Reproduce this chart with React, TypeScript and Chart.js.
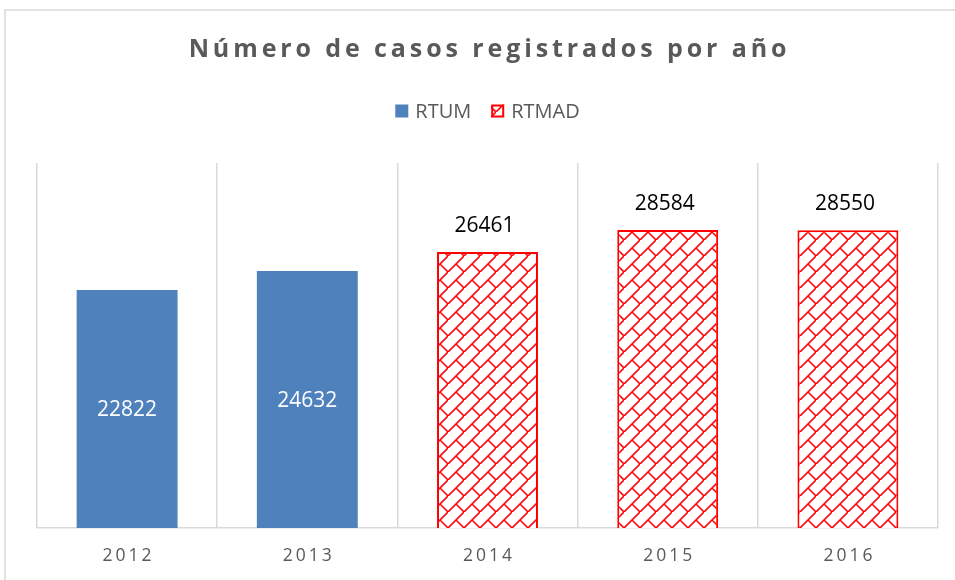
import { useEffect, useRef } from "react";
import { Chart, registerables } from "chart.js";

Chart.register(...registerables);

const TITLE = "Número de casos registrados por año";
const categories = ["2012", "2013", "2014", "2015", "2016"];
const seriesNames = ["RTUM", "RTMAD"];
const rtumValues: (number | null)[] = [22822, 24632, null, null, null];
const rtmadValues: (number | null)[] = [null, null, 26461, 28584, 28550];
const yMax = 35000;

const BLUE = "#4F81BD";
const RED = "#FF0000";
const GRAY_TEXT = "#595959";
const GRID = "#D9D9D9";
const FONT = "'Open Sans', 'Liberation Sans', sans-serif";

function makePattern(ctx: CanvasRenderingContext2D): CanvasPattern | string {
  const c = document.createElement("canvas");
  c.width = 16;
  c.height = 16;
  const g = c.getContext("2d");
  if (!g) return RED;
  g.fillStyle = "#ffffff";
  g.fillRect(0, 0, 16, 16);
  g.strokeStyle = "rgba(255,0,0,0.95)";
  g.lineWidth = 1.6;
  g.beginPath();
  g.moveTo(-2, 18);
  g.lineTo(18, -2);
  g.moveTo(8, 8);
  g.lineTo(18, 18);
  g.moveTo(-2, -2);
  g.lineTo(0, 0);
  g.stroke();
  return ctx.createPattern(c, "repeat") || RED;
}

const textPlugin = {
  id: "customTexts",
  beforeDraw(chart: any) {
    const ctx: CanvasRenderingContext2D = chart.ctx;
    ctx.save();
    ctx.fillStyle = "#ffffff";
    ctx.fillRect(0, 0, chart.width, chart.height);
    ctx.strokeStyle = GRID;
    ctx.lineWidth = 1.5;
    ctx.beginPath();
    ctx.moveTo(5, chart.height);
    ctx.lineTo(5, 10);
    ctx.lineTo(chart.width, 10);
    ctx.stroke();
    ctx.restore();
  },
  afterDraw(chart: any) {
    const ctx: any = chart.ctx;
    const area = chart.chartArea;
    const cx = (area.left + area.right) / 2;
    ctx.save();

    // Title
    ctx.font = `bold 25px ${FONT}`;
    ctx.fillStyle = GRAY_TEXT;
    ctx.textAlign = "center";
    ctx.textBaseline = "middle";
    ctx.letterSpacing = "3.9px";
    ctx.fillText(TITLE, cx + 2, 50);

    // Legend
    ctx.letterSpacing = "0px";
    ctx.font = `20px ${FONT}`;
    ctx.textAlign = "left";
    const ly = 111;
    const box = 13;
    const gap = 7;
    const itemGap = 20;
    const w0 = ctx.measureText(seriesNames[0]).width;
    const w1 = ctx.measureText(seriesNames[1]).width;
    const total = box + gap + w0 + itemGap + box + gap + w1;
    let x = cx - total / 2;
    ctx.fillStyle = BLUE;
    ctx.fillRect(x, ly - box / 2, box, box);
    ctx.fillStyle = GRAY_TEXT;
    ctx.fillText(seriesNames[0], x + box + gap, ly + 1);
    x += box + gap + w0 + itemGap;
    ctx.fillStyle = makePattern(ctx);
    ctx.fillRect(x, ly - box / 2, box, box);
    ctx.strokeStyle = RED;
    ctx.lineWidth = 2;
    ctx.strokeRect(x + 1, ly - box / 2 + 1, box - 2, box - 2);
    ctx.fillStyle = GRAY_TEXT;
    ctx.fillText(seriesNames[1], x + box + gap, ly + 1);

    // X tick labels
    const xs = chart.scales.x;
    ctx.font = `17.5px ${FONT}`;
    ctx.textAlign = "center";
    ctx.letterSpacing = "3px";
    ctx.fillStyle = GRAY_TEXT;
    categories.forEach((c, i) => {
      ctx.fillText(c, xs.getPixelForValue(i) + 1.5, area.bottom + 28);
    });

    // Data labels
    ctx.letterSpacing = "0px";
    ctx.font = `21px ${FONT}`;
    const m0 = chart.getDatasetMeta(0);
    m0.data.forEach((el: any, i: number) => {
      const v = rtumValues[i];
      if (v == null) return;
      ctx.fillStyle = "#ffffff";
      ctx.fillText(String(v), el.x, (el.y + el.base) / 2 + 1);
    });
    const m1 = chart.getDatasetMeta(1);
    m1.data.forEach((el: any, i: number) => {
      const v = rtmadValues[i];
      if (v == null) return;
      ctx.fillStyle = "#000000";
      ctx.fillText(String(v), el.x - 3, el.y - 26);
    });
    ctx.restore();
  },
};

export default function App() {
  const ref = useRef<HTMLCanvasElement | null>(null);
  useEffect(() => {
    const canvas = ref.current;
    if (!canvas) return;
    const ctx = canvas.getContext("2d") as CanvasRenderingContext2D;
    const pattern = makePattern(ctx);
    const chart = new Chart(ctx, {
      type: "bar",
      data: {
        labels: categories,
        datasets: [
          {
            label: seriesNames[0],
            data: rtumValues,
            backgroundColor: BLUE,
            borderWidth: 0,
          },
          {
            label: seriesNames[1],
            data: rtmadValues,
            backgroundColor: pattern as any,
            borderColor: RED,
            borderWidth: 2,
          },
        ],
      },
      options: {
        responsive: false,
        animation: false,
        events: [],
        layout: { padding: { left: 37, right: 17, top: 163, bottom: 52 } },
        datasets: {
          bar: { categoryPercentage: 1, barPercentage: 0.56 },
        },
        plugins: {
          legend: { display: false },
          title: { display: false },
          tooltip: { enabled: false },
        },
        scales: {
          x: {
            stacked: true,
            offset: true,
            grid: { display: true, color: GRID, lineWidth: 1.5, offset: true, drawTicks: false },
            border: { display: true, color: GRID, width: 1.5 },
            ticks: { display: false },
          },
          y: {
            stacked: true,
            display: false,
            min: 0,
            max: yMax,
          },
        },
      },
      plugins: [textPlugin],
    });
    return () => chart.destroy();
  }, []);
  return (
    <div style={{ position: "fixed", left: 0, top: 0, width: 955, height: 580, background: "#fff" }}>
      <canvas ref={ref} width={955} height={580} style={{ display: "block", width: 955, height: 580 }} />
    </div>
  );
}
